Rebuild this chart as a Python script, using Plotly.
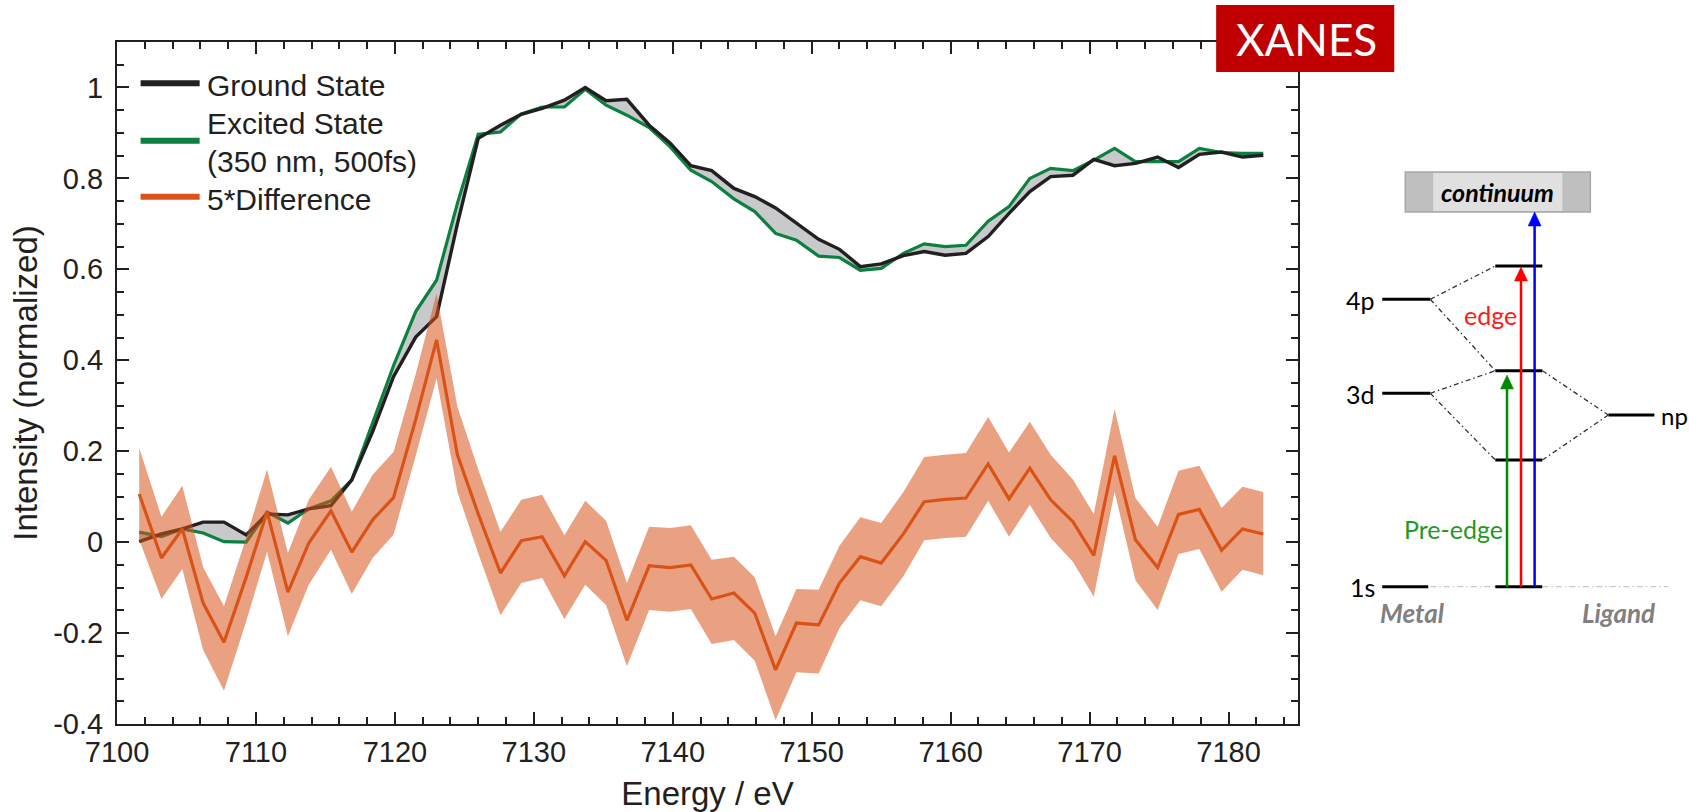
import plotly.graph_objects as go

# ---------------- data ----------------
energy = [7101.6, 7103.2, 7104.7, 7106.2, 7107.7, 7109.3, 7110.8, 7112.3, 7113.8, 7115.4,
          7116.9, 7118.4, 7119.9, 7121.5, 7123.0, 7124.5, 7126.0, 7127.6, 7129.1, 7130.6,
          7132.2, 7133.7, 7135.2, 7136.7, 7138.3, 7139.8, 7141.3, 7142.8, 7144.4, 7145.9,
          7147.4, 7148.9, 7150.5, 7152.0, 7153.5, 7155.0, 7156.6, 7158.1, 7159.6, 7161.1,
          7162.7, 7164.2, 7165.7, 7167.2, 7168.8, 7170.3, 7171.8, 7173.3, 7174.9, 7176.4,
          7177.9, 7179.5, 7181.0, 7182.5]

ground = [0.001, 0.018, 0.029, 0.044, 0.044, 0.016, 0.062, 0.060, 0.073, 0.080,
          0.137, 0.243, 0.364, 0.451, 0.496, 0.700, 0.888, 0.917, 0.941, 0.954,
          0.972, 1.000, 0.971, 0.974, 0.917, 0.878, 0.828, 0.817, 0.778, 0.760,
          0.735, 0.701, 0.666, 0.644, 0.606, 0.612, 0.630, 0.639, 0.631, 0.635,
          0.672, 0.723, 0.771, 0.804, 0.807, 0.842, 0.828, 0.833, 0.847, 0.824,
          0.853, 0.858, 0.847, 0.851]

excited = [0.022, 0.012, 0.029, 0.020, 0.001, 0.000, 0.066, 0.042, 0.073, 0.091,
           0.137, 0.262, 0.388, 0.507, 0.576, 0.745, 0.897, 0.902, 0.942, 0.957,
           0.957, 0.996, 0.961, 0.939, 0.912, 0.870, 0.818, 0.793, 0.755, 0.727,
           0.679, 0.664, 0.629, 0.626, 0.598, 0.602, 0.635, 0.656, 0.650, 0.653,
           0.706, 0.738, 0.800, 0.822, 0.817, 0.840, 0.866, 0.837, 0.837, 0.837,
           0.866, 0.857, 0.855, 0.855]

difference = [0.106, -0.035, 0.029, -0.134, -0.220, -0.077, 0.067, -0.110, -0.002, 0.069,
              -0.022, 0.049, 0.098, 0.270, 0.445, 0.192, 0.062, -0.068, 0.003, 0.012,
              -0.074, 0.001, -0.040, -0.172, -0.052, -0.056, -0.050, -0.125, -0.112, -0.156,
              -0.281, -0.178, -0.182, -0.090, -0.032, -0.046, 0.018, 0.089, 0.094, 0.097,
              0.172, 0.095, 0.163, 0.093, 0.045, -0.029, 0.190, 0.005, -0.056, 0.061,
              0.072, -0.018, 0.029, 0.018]

diff_upper = [0.207, 0.056, 0.124, -0.055, -0.141, 0.010, 0.160, -0.024, 0.093, 0.166,
              0.067, 0.148, 0.198, 0.370, 0.547, 0.298, 0.160, 0.023, 0.093, 0.104,
              0.015, 0.091, 0.047, -0.090, 0.034, 0.031, 0.037, -0.039, -0.032, -0.077,
              -0.207, -0.103, -0.105, -0.008, 0.055, 0.042, 0.110, 0.187, 0.192, 0.196,
              0.275, 0.197, 0.265, 0.192, 0.138, 0.062, 0.293, 0.097, 0.034, 0.157,
              0.168, 0.075, 0.122, 0.110]

diff_lower = [0.005, -0.125, -0.059, -0.237, -0.327, -0.174, -0.021, -0.207, -0.094, -0.017,
              -0.114, -0.035, 0.016, 0.190, 0.360, 0.111, -0.025, -0.161, -0.090, -0.079,
              -0.169, -0.094, -0.138, -0.273, -0.149, -0.153, -0.147, -0.224, -0.215, -0.261,
              -0.391, -0.286, -0.289, -0.189, -0.128, -0.141, -0.075, 0.004, 0.009, 0.012,
              0.091, 0.012, 0.082, 0.009, -0.043, -0.120, 0.111, -0.084, -0.149, -0.026,
              -0.015, -0.109, -0.061, -0.073]

x_ticks = [7100, 7110, 7120, 7130, 7140, 7150, 7160, 7170, 7180]
y_tickvals = [-0.4, -0.2, 0, 0.2, 0.4, 0.6, 0.8, 1.0]
y_ticktext = ["-0.4", "-0.2", "0", "0.2", "0.4", "0.6", "0.8", "1"]

legend_labels = ["Ground State", "Excited State", "(350 nm, 500fs)", "5*Difference"]

# ---------------- styling ----------------
BLACK = "#231f20"
GREEN = "#0b8040"
ORANGE = "#d95319"
BAND = "rgba(217,83,25,0.55)"
GRAYFILL = "#c8c9cb"
FONT = "Liberation Sans, Arial, sans-serif"
DFONT = "Lato, Open Sans, sans-serif"

W, H = 1689, 812
L, R, T, B = 117.4, 1297.8, 42.0, 724.0


def px(X):
    return (X - L) / (R - L)


def py(Y):
    return (B - Y) / (B - T)


fig = go.Figure()

# gray fill between ground and excited
fig.add_trace(go.Scatter(x=energy, y=excited, mode="lines", line=dict(width=0),
                         showlegend=False, hoverinfo="skip"))
fig.add_trace(go.Scatter(x=energy, y=ground, mode="lines", line=dict(width=0),
                         fill="tonexty", fillcolor=GRAYFILL, showlegend=False, hoverinfo="skip"))
# curves
fig.add_trace(go.Scatter(x=energy, y=excited, mode="lines", name="Excited State",
                         line=dict(color=GREEN, width=3.2), showlegend=False))
fig.add_trace(go.Scatter(x=energy, y=ground, mode="lines", name="Ground State",
                         line=dict(color=BLACK, width=3.4), showlegend=False))
# difference band
fig.add_trace(go.Scatter(x=energy, y=diff_lower, mode="lines", line=dict(width=0),
                         showlegend=False, hoverinfo="skip"))
fig.add_trace(go.Scatter(x=energy, y=diff_upper, mode="lines", line=dict(width=0),
                         fill="tonexty", fillcolor=BAND, showlegend=False, hoverinfo="skip"))
fig.add_trace(go.Scatter(x=energy, y=difference, mode="lines", name="5*Difference",
                         line=dict(color=ORANGE, width=3.2), showlegend=False))

shapes = []
annotations = []

# ---------------- manual legend ----------------
leg = [(83.3, BLACK), (140.7, GREEN), (196.7, ORANGE)]
for yy, c in leg:
    shapes.append(dict(type="line", xref="paper", yref="paper", x0=px(141), x1=px(200),
                       y0=py(yy), y1=py(yy), line=dict(color=c, width=6)))
for txt, yy in zip(legend_labels, [85.5, 123.0, 162.0, 199.5]):
    annotations.append(dict(text=txt, xref="paper", yref="paper", x=px(205), y=py(yy),
                            xanchor="left", yanchor="middle", showarrow=False,
                            font=dict(family=FONT, size=30, color=BLACK)))

# ---------------- XANES label ----------------
shapes.append(dict(type="rect", xref="paper", yref="paper", x0=px(1216), x1=px(1394),
                   y0=py(72), y1=py(5), fillcolor="#c00000", line=dict(width=0), layer="above"))
annotations.append(dict(text="XANES", xref="paper", yref="paper", x=px(1306), y=py(39),
                        xanchor="center", yanchor="middle", showarrow=False,
                        font=dict(family="Lato, sans-serif", size=44, color="white")))

# ---------------- energy-level diagram ----------------
# continuum box
shapes.append(dict(type="rect", xref="paper", yref="paper", x0=px(1405), x1=px(1590),
                   y0=py(212), y1=py(172), fillcolor="#bfbfbf",
                   line=dict(color="#a8a8a8", width=1.5), layer="above"))
shapes.append(dict(type="rect", xref="paper", yref="paper", x0=px(1433), x1=px(1562),
                   y0=py(211), y1=py(173), fillcolor="#e0e0e0", line=dict(width=0), layer="above"))
annotations.append(dict(text="<b><i>continuum</i></b>", xref="paper", yref="paper",
                        x=px(1497), y=py(192), xanchor="center", yanchor="middle", showarrow=False,
                        font=dict(family=DFONT, size=25, color="black")))

levels = [
    (1382, 1430, 299.3), (1382, 1430, 393.3), (1382, 1428, 586.7),
    (1495, 1542, 266.0), (1495, 1542, 370.7), (1495, 1542, 460.0), (1495, 1542, 586.7),
    (1608, 1654, 415.0),
]
for x0, x1, yy in levels:
    shapes.append(dict(type="line", xref="paper", yref="paper", x0=px(x0), x1=px(x1),
                       y0=py(yy), y1=py(yy), line=dict(color="black", width=3), layer="above"))

dd = [((1430, 299.3), (1495, 266.0)), ((1430, 299.3), (1495, 370.7)),
      ((1430, 393.3), (1495, 370.7)), ((1430, 393.3), (1495, 460.0)),
      ((1542, 370.7), (1608, 415.0)), ((1542, 460.0), (1608, 415.0))]
for (a, b) in dd:
    shapes.append(dict(type="line", xref="paper", yref="paper", x0=px(a[0]), y0=py(a[1]),
                       x1=px(b[0]), y1=py(b[1]),
                       line=dict(color="#333333", width=1.3, dash="5px,3px,1.5px,3px"), layer="above"))
for (a, b) in [(1430, 1495), (1542, 1668)]:
    shapes.append(dict(type="line", xref="paper", yref="paper", x0=px(a), x1=px(b),
                       y0=py(586.7), y1=py(586.7),
                       line=dict(color="#c8c8c8", width=1.3, dash="6px,3px,1.5px,3px"), layer="above"))

arrows = [(1506.7, 375.0, "#008a00"), (1520.7, 267.0, "#ff0000"), (1534.3, 212.0, "#0000ff")]
for ax_, tip, c in arrows:
    shapes.append(dict(type="line", xref="paper", yref="paper", x0=px(ax_), x1=px(ax_),
                       y0=py(586.7), y1=py(tip + 12), line=dict(color=c, width=2.5), layer="above"))
    path = "M {},{} L {},{} L {},{} Z".format(px(ax_ - 6.5), py(tip + 14), px(ax_ + 6.5), py(tip + 14),
                                              px(ax_), py(tip))
    shapes.append(dict(type="path", xref="paper", yref="paper", path=path, fillcolor=c,
                       line=dict(color=c, width=0.5), layer="above"))

dlabels = [
    ("4p", 1377, 300, "right", "black", 25),
    ("3d", 1377, 394, "right", "black", 25),
    ("1s", 1377, 587, "right", "black", 25),
    ("np", 1659, 415, "left", "black", 24),
    ("edge", 1490, 315, "center", "#ff1a1a", 25),
    ("Pre-edge", 1453, 529, "center", "#1f9a1f", 25),
    ("<b><i>Metal</i></b>", 1412, 613, "center", "#808080", 26),
    ("<b><i>Ligand</i></b>", 1618, 613, "center", "#808080", 26),
]
for txt, X, Y, anc, c, fs in dlabels:
    annotations.append(dict(text=txt, xref="paper", yref="paper", x=px(X), y=py(Y),
                            xanchor=anc, yanchor="middle", showarrow=False,
                            font=dict(family=DFONT, size=fs, color=c)))

axis_common = dict(
    showline=True, linecolor=BLACK, linewidth=2, mirror="ticks",
    ticks="inside", tickcolor=BLACK, tickwidth=2, ticklen=12,
    showgrid=False, zeroline=False,
    tickfont=dict(family=FONT, size=29, color=BLACK),
)

fig.update_layout(
    width=W, height=H,
    margin=dict(l=L, r=W - R, t=T, b=H - B, autoexpand=False),
    plot_bgcolor="white", paper_bgcolor="white",
    showlegend=False,
    xaxis=dict(range=[7100, 7185], tickvals=x_ticks,
               minor=dict(dtick=2, tick0=7100, ticks="inside", ticklen=7, tickwidth=1.5, tickcolor=BLACK),
               title=dict(text="Energy / eV", font=dict(family=FONT, size=33, color=BLACK), standoff=17),
               ticklabelstandoff=1, **axis_common),
    yaxis=dict(range=[-0.4, 1.1], tickvals=y_tickvals, ticktext=y_ticktext,
               minor=dict(dtick=0.05, tick0=-0.4, ticks="inside", ticklen=7, tickwidth=1.5, tickcolor=BLACK),
               title=dict(text="Intensity (normalized)", font=dict(family=FONT, size=33, color=BLACK), standoff=6),
               ticklabelstandoff=6, **axis_common),
    shapes=shapes,
    annotations=annotations,
)

fig.write_html("out.html")
